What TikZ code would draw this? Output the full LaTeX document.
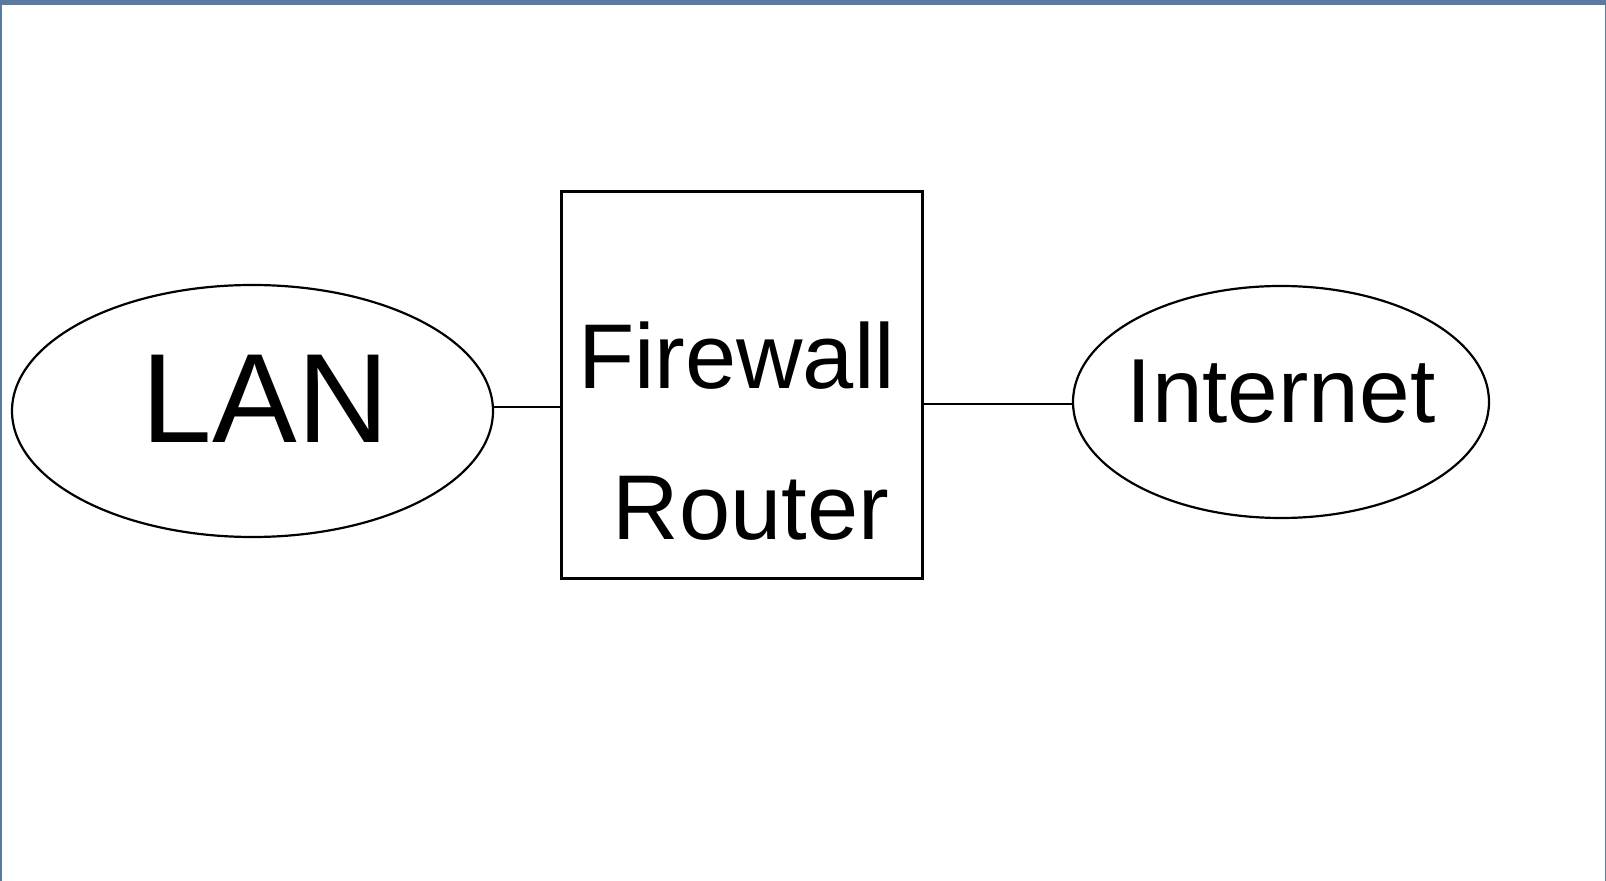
\documentclass[tikz,border=0pt]{standalone}
\usepackage{fontspec}
\setmainfont{Liberation Sans}
\usetikzlibrary{shapes.geometric}
\definecolor{framebl}{RGB}{90,122,162}
\tikzset{
  cloud/.style={draw=black, line width=1.1pt, ellipse, inner sep=0pt, outer sep=0pt},
  boxnode/.style={draw=black, line width=1.5pt, rectangle, inner sep=0pt, outer sep=0pt,
                  minimum width=180.5pt, minimum height=193.5pt},
  link/.style={draw=black, line width=1.35pt},
  lbl/.style={anchor=base, inner sep=0pt, font=\fontsize{46}{50}\selectfont},
}
\begin{document}
\begin{tikzpicture}[x=0.5pt, y=-0.5pt]
  \useasboundingbox (0,0) rectangle (1606,881);
  \fill[white] (0,0) rectangle (1606,881);
  \fill[framebl] (0,0) rectangle (1606,5);
  \fill[framebl] (0,0) rectangle (1.5,881);
  \fill[framebl] (1604.5,0) rectangle (1606,881);

  \node[cloud, minimum width=240.5pt, minimum height=126pt] (lan) at (252.5,411) {};
  \node[boxnode] (fw) at (742,385.5) {};
  \node[cloud, minimum width=208pt, minimum height=116pt] (inet) at (1281,402) {};

  \node[lbl, font=\fontsize{63.5}{68}\selectfont] (lantxt) at (265.5,443) {LAN};
  \node[lbl] (fwtxt) at (736.5,389) {Firewall};
  \node[lbl] (rttxt) at (751,540) {Router};
  \node[lbl, font=\fontsize{45.5}{50}\selectfont] (inettxt) at (1281,423) {Internet};

  \draw[link] (lan.east) ++(0,-4) coordinate (lanport) -- (lanport -| fw.west);
  \draw[link] (inet.west) ++(0,2) coordinate (inetport) -- (inetport -| fw.east);
\end{tikzpicture}
\end{document}
